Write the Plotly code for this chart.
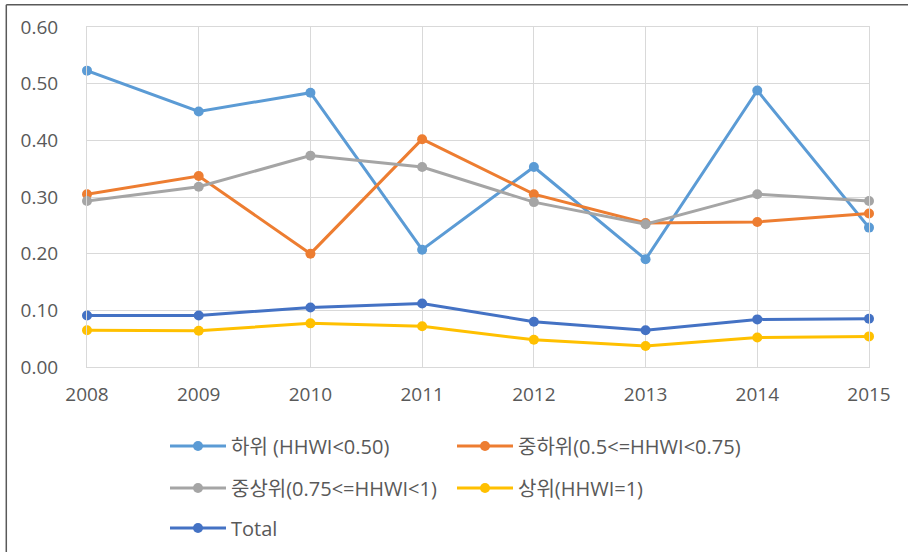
import plotly.graph_objects as go

years = [2008, 2009, 2010, 2011, 2012, 2013, 2014, 2015]
low = [0.523, 0.451, 0.484, 0.207, 0.353, 0.190, 0.488, 0.246]
mid_low = [0.305, 0.337, 0.200, 0.402, 0.305, 0.254, 0.256, 0.271]
mid_high = [0.293, 0.318, 0.373, 0.353, 0.291, 0.252, 0.305, 0.293]
high = [0.065, 0.064, 0.077, 0.072, 0.048, 0.037, 0.052, 0.054]
total = [0.091, 0.091, 0.105, 0.112, 0.080, 0.065, 0.084, 0.085]

names = ["하위 (HHWI&lt;0.50)", "중하위(0.5&lt;=HHWI&lt;0.75)", "중상위(0.75&lt;=HHWI&lt;1)",
         "상위(HHWI=1)", "Total"]
colors = ["#5B9BD5", "#ED7D31", "#A5A5A5", "#FFC000", "#4472C4"]
legends = ["legend", "legend2", "legend3", "legend4", "legend5"]
series = [low, mid_low, mid_high, high, total]

FONT = "Open Sans, Noto Sans CJK KR, sans-serif"
TXT = "#595959"

fig = go.Figure()
for name, vals, col, lg in zip(names, series, colors, legends):
    fig.add_trace(go.Scatter(
        x=years, y=vals, name=name, mode="lines+markers",
        line=dict(color=col, width=3),
        marker=dict(color=col, size=10),
        cliponaxis=False, legend=lg, showlegend=True,
    ))

W, H = 908, 552
L, R, T, B = 86.7, 39.4, 26.7, 185.3
pw = W - L - R
ph = H - T - B

def px(x):
    return (x - L) / pw

def py(y):
    return 1 - (y - T) / ph

leg_common = dict(orientation="h", xref="container", yref="container",
                  xanchor="left", yanchor="middle",
                  font=dict(family=FONT, size=20, color=TXT),
                  itemwidth=56,
                  bgcolor="rgba(0,0,0,0)", borderwidth=0)

LX1 = 165
LX2 = 452
fig.update_layout(
    width=W, height=H,
    showlegend=True,
    margin=dict(l=L, r=R, t=T, b=B),
    paper_bgcolor="white", plot_bgcolor="white",
    font=dict(family=FONT, color=TXT),
    legend=dict(x=LX1 / W, y=1 - 446 / H, **leg_common),
    legend2=dict(x=LX2 / W, y=1 - 446 / H, **leg_common),
    legend3=dict(x=LX1 / W, y=1 - 488 / H, **leg_common),
    legend4=dict(x=LX2 / W, y=1 - 488 / H, **leg_common),
    legend5=dict(x=LX1 / W, y=1 - 528 / H, **leg_common),
    xaxis=dict(range=[2008, 2015], dtick=1, tickformat="d",
               showgrid=True, gridcolor="#D9D9D9", gridwidth=1,
               showline=True, linecolor="#D9D9D9", linewidth=1, mirror=True,
               zeroline=False, ticks="",
               tickfont=dict(family=FONT, size=19, color=TXT),
               ticklabelstandoff=10),
    yaxis=dict(range=[0, 0.6], dtick=0.1, tickformat=".2f",
               showgrid=True, gridcolor="#D9D9D9", gridwidth=1,
               showline=True, linecolor="#D9D9D9", linewidth=1, mirror=True,
               zeroline=False, ticks="",
               tickfont=dict(family=FONT, size=19, color=TXT),
               ticklabelstandoff=24),
    shapes=[
        dict(type="line", xref="paper", yref="paper",
             x0=px(6), x1=px(W + 5), y0=py(4.5), y1=py(4.5),
             line=dict(color="#595959", width=1.5)),
        dict(type="line", xref="paper", yref="paper",
             x0=px(6), x1=px(6), y0=py(4.5), y1=py(H + 5),
             line=dict(color="#595959", width=1.5)),
    ],
)

fig.write_html("out.html", config={"displayModeBar": False},
               post_script="document.body.style.margin='0';document.body.style.overflow='hidden';")
